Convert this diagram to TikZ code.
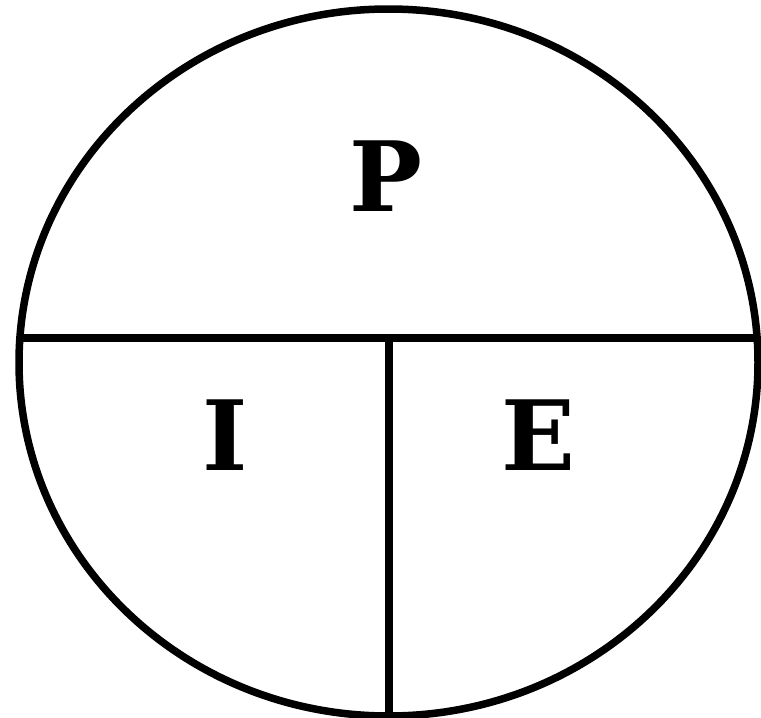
\documentclass[tikz,border=0pt]{standalone}
\usepackage{fontspec}
\setmainfont{DejaVu Serif}
\begin{document}
\begin{tikzpicture}[x=1pt, y=-1pt, line width=7.5pt,
    letter/.style={font=\fontsize{97}{97}\selectfont\bfseries, inner sep=0pt}]
    \useasboundingbox (0,0) rectangle (761,718);

    \draw (388.5,362.5) ellipse [x radius=369.5, y radius=353.5];

    \coordinate (left) at (19.5,338);
    \coordinate (right) at (757.5,338);
    \coordinate (mid) at (389,338);
    \coordinate (bottom) at (389,716);

    \draw (left) -- (right);
    \draw (mid) -- (bottom);

    \node[letter] (p) at (386,176) {P};
    \node[letter] (i) at (225,435) {I};
    \node[letter] (e) at (538,435) {E};
  \end{tikzpicture}
\end{document}
